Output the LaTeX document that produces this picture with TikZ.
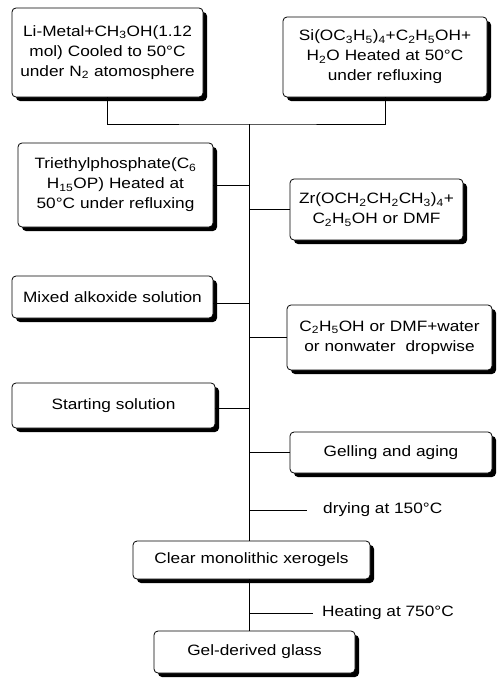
\documentclass[tikz,border=0pt]{standalone}
\usepackage{fontspec}
\setmainfont{Liberation Sans}[FakeStretch=1.15]
\usetikzlibrary{shadows,calc}
\newcommand{\sub}[1]{\textsubscript{#1}}

\begin{document}
\begin{tikzpicture}[x=1pt, y=-1pt,
  box/.style={draw, line width=0.8pt, rounded corners=4pt, fill=white,
    align=center, inner xsep=0pt, inner ysep=0pt,
    font=\fontsize{15}{20}\selectfont,
    drop shadow={shadow xshift=4pt, shadow yshift=-4pt, opacity=1, fill=black}},
  link/.style={line width=0.8pt},
  tag/.style={anchor=west, inner sep=0pt, font=\fontsize{15}{20}\selectfont}]
  \useasboundingbox (0,0) rectangle (496,680);
  % starting materials
  \node[box, text width=191pt, minimum height=89pt] (li) at (107.5,52.5)
    {Li-Metal+CH\sub{3}OH(1.12\\mol) Cooled to 50°C\\under N\sub{2} atomosphere};
  \node[box, text width=204pt, minimum height=80pt] (si) at (385,57)
    {Si(OC\sub{3}H\sub{5})\sub{4}+C\sub{2}H\sub{5}OH+\\H\sub{2}O Heated at 50°C\\under refluxing};
  \node[box, text width=195pt, minimum height=84pt] (tep) at (115.5,185)
    {Triethylphosphate(C\sub{6}\\H\sub{15}OP) Heated at\\50°C under refluxing};
  \node[box, text width=173pt, minimum height=61pt] (zr) at (376.5,209.5)
    {Zr(OCH\sub{2}CH\sub{2}CH\sub{3})\sub{4}+\\C\sub{2}H\sub{5}OH or DMF};
  % solutions
  \node[box, text width=201pt, minimum height=42pt] (mix) at (112.5,297) {Mixed alkoxide solution};
  \node[box, text width=205pt, minimum height=65pt] (wat) at (389.5,337.5)
    {C\sub{2}H\sub{5}OH or DMF+water\\or nonwater\ \ dropwise};
  \node[box, text width=203pt, minimum height=45pt] (start) at (113.5,405.5) {Starting solution};
  \node[box, text width=202pt, minimum height=41pt] (gel) at (391,452.5) {Gelling and aging};
  % products
  \node[box, text width=237pt, minimum height=38pt] (xero) at (251.5,560) {Clear monolithic xerogels};
  \node[box, text width=201pt, minimum height=42pt] (glass) at (254.5,652) {Gel-derived glass};
  \node[tag] (dry) at (323,510) {drying at 150°C};
  \node[tag] (heat) at (322,613) {Heating at 750°C};

  % trunk and branches
  \coordinate (top) at (249,124);
  \draw[link] (li.south) |- (top) -| (si.south);
  \draw[link] (top) -- (top |- xero.north);
  \draw[link] (tep.east) -- (tep.east -| top);
  \draw[link] (zr.west) -- (zr.west -| top);
  \draw[link] ([yshift=-6pt]mix.east) -- ([yshift=-6pt]mix.east -| top);
  \draw[link] (wat.west) -- (wat.west -| top);
  \draw[link] ([yshift=-3pt]start.east) -- ([yshift=-3pt]start.east -| top);
  \draw[link] (gel.west) -- (gel.west -| top);
  \draw[link] (dry.west -| top) -- ([xshift=-16pt]dry.west);
  \draw[link] (xero.south -| top) -- (glass.north -| top);
  \draw[link] (heat.west -| top) -- ([xshift=-9pt]heat.west);
\end{tikzpicture}
\end{document}
